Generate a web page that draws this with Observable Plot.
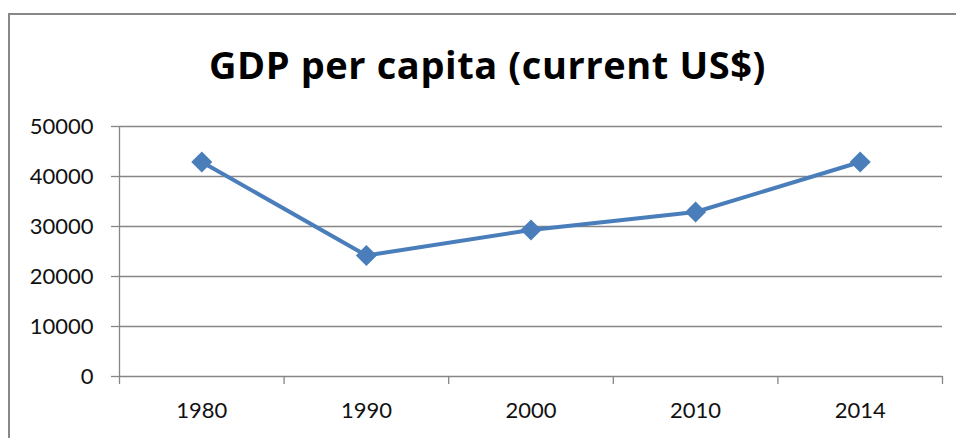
<!DOCTYPE html>
<html>
<head>
<meta charset="utf-8">
<script src="https://cdn.jsdelivr.net/npm/d3@7"></script>
<script src="https://cdn.jsdelivr.net/npm/@observablehq/plot@0.6"></script>
<style>
  html, body { margin: 0; padding: 0; background: #fff; }
  #wrap { position: relative; width: 956px; height: 438px; overflow: hidden; background: #fff; }
  #frame { position: absolute; left: 8px; top: 13px; width: 980px; height: 460px; border: 2px solid #888; box-sizing: border-box; }
  #title { position: absolute; left: 0; top: 45px; width: 975px; text-align: center; font-family: "Open Sans", Lato, sans-serif; font-weight: bold; font-size: 38px; letter-spacing: 0.6px; color: #000; line-height: 1; }
  #chart { position: absolute; left: 0; top: 110px; }
</style>
</head>
<body>
<div id="wrap">
  <div id="frame"></div>
  <div id="title">GDP per capita (current US$)</div>
  <div id="chart"></div>
</div>
<script>
const years = ["1980", "1990", "2000", "2010", "2014"];
const gdp = [42900, 24200, 29300, 32900, 42900];
const yTicks = [0, 10000, 20000, 30000, 40000, 50000];

const data = years.map((year, i) => ({i, year, value: gdp[i]}));
const idx = years.map((_, i) => i);
const bounds = [-0.5, ...idx.map(i => i + 0.5)];

const grid = "#868686";
const blue = "#4A7EBB";
const font = "Lato, 'Open Sans', sans-serif";

const plot = Plot.plot({
  width: 956,
  height: 328,
  marginTop: 16,
  marginBottom: 62,
  marginLeft: 119,
  marginRight: 14,
  style: {fontFamily: font, fontSize: "22px", color: "#111", background: "transparent"},
  x: {type: "linear", domain: [-0.5, years.length - 0.5]},
  y: {domain: [0, 50000]},
  marks: [
    Plot.ruleY(yTicks, {x1: -0.5, x2: years.length - 0.5, stroke: grid, strokeWidth: 1.3, strokeOpacity: 1}),
    Plot.ruleX([-0.5], {y1: 0, y2: 50000, stroke: grid, strokeWidth: 1.3, strokeOpacity: 1}),
    Plot.axisY({ticks: yTicks, tickSize: 8, tickPadding: 18, tickFormat: d => String(d), stroke: grid, strokeWidth: 1.3, strokeOpacity: 1, label: null, fontSize: 22}),
    Plot.axisX({ticks: bounds, tickSize: 8, tickFormat: () => "", stroke: grid, strokeWidth: 1.3, strokeOpacity: 1, label: null}),
    Plot.axisX({ticks: idx, tickSize: 0, tickPadding: 26, tickFormat: i => years[i], label: null, fontSize: 22}),
    Plot.line(data, {x: "i", y: "value", stroke: blue, strokeWidth: 4}),
    Plot.dot(data, {x: "i", y: "value", symbol: "diamond2", r: 9.5, fill: blue, stroke: "none"})
  ]
});
document.getElementById("chart").appendChild(plot);
</script>
</body>
</html>
